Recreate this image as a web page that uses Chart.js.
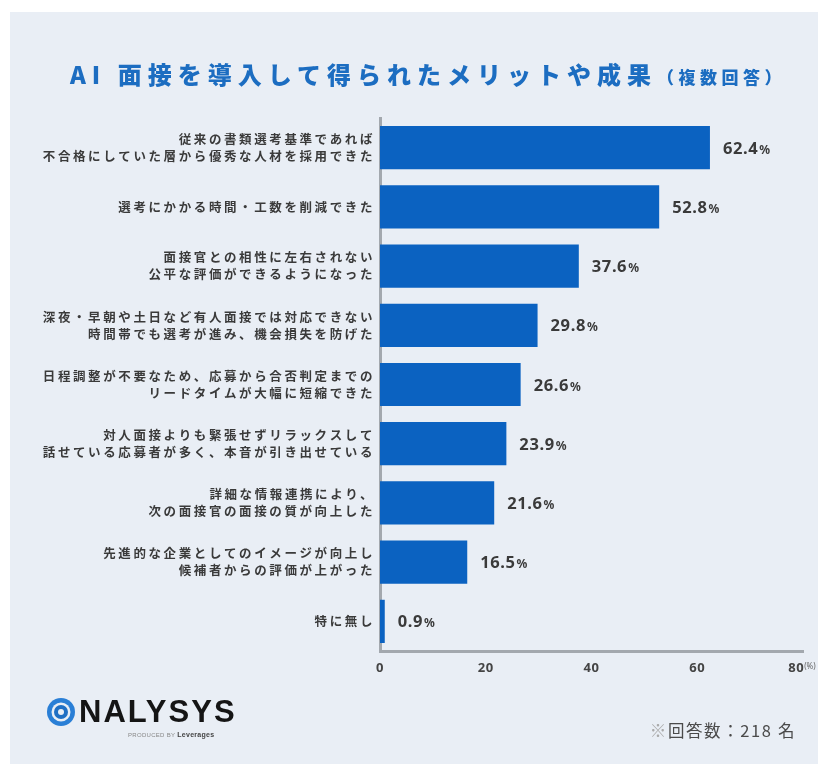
<!DOCTYPE html>
<html lang="ja">
<head>
<meta charset="utf-8">
<script src="https://cdn.jsdelivr.net/npm/chart.js@4"></script>
<style>
  html, body { margin:0; padding:0; background:#fff; }
  body { width:832px; height:764px; position:relative; overflow:hidden; font-family:"Noto Sans CJK JP", "Noto Sans", sans-serif; }
  #panel { position:absolute; left:10px; top:12px; width:808px; height:752px; background:#e9eef5; }
  #c { position:absolute; left:0; top:0; z-index:1; }
  #title { position:absolute; left:70px; top:56px; z-index:2; white-space:nowrap; color:#1c6dc1; font-weight:900; }
  #title .main { font-size:24px; letter-spacing:6px; }
  #title .sub { font-size:17px; letter-spacing:4.5px; margin-left:0px; }
  #logo { position:absolute; left:46px; top:696px; z-index:2; }
  #logo svg { position:absolute; left:0; top:1px; }
  #logo .name { position:absolute; left:33px; top:0; font-family:"Liberation Sans", Arial, sans-serif; font-weight:700; font-size:31px; line-height:31px; letter-spacing:2px; color:#151515; white-space:nowrap; }
  #logo .by { position:absolute; left:82px; top:35px; font-family:"Liberation Sans", Arial, sans-serif; font-size:6px; color:#888; white-space:nowrap; letter-spacing:0.3px; }
  #logo .by b { color:#444; font-size:7px; }
  #note { position:absolute; right:36px; top:718px; z-index:2; font-size:16.5px; letter-spacing:1.6px; color:#4a4a4a; white-space:nowrap; }
  #note .mark { color:#aaa; }
</style>
</head>
<body>
<div id="panel"></div>
<canvas id="c" width="832" height="764"></canvas>
<div id="title"><span class="main">AI 面接を導入して得られたメリットや成果</span><span class="sub">（複数回答）</span></div>
<div id="logo">
  <svg width="30" height="30" viewBox="0 0 30 30">
    <circle cx="15" cy="15" r="14" fill="#2a7fd6"/>
    <circle cx="15" cy="15" r="9.5" fill="#e9eef5"/>
    <circle cx="15" cy="15" r="7" fill="#1f6fc4"/>
    <circle cx="15" cy="15" r="3" fill="#e9eef5"/>
  </svg>
  <div class="name">NALYSYS</div>
  <div class="by">PRODUCED BY <b>Leverages</b></div>
</div>
<div id="note"><span class="mark">※</span>回答数：218 名</div>
<script>
// ---- data ----
const categories = [
  ['従来の書類選考基準であれば', '不合格にしていた層から優秀な人材を採用できた'],
  '選考にかかる時間・工数を削減できた',
  ['面接官との相性に左右されない', '公平な評価ができるようになった'],
  ['深夜・早朝や土日など有人面接では対応できない', '時間帯でも選考が進み、機会損失を防げた'],
  ['日程調整が不要なため、応募から合否判定までの', 'リードタイムが大幅に短縮できた'],
  ['対人面接よりも緊張せずリラックスして', '話せている応募者が多く、本音が引き出せている'],
  ['詳細な情報連携により、', '次の面接官の面接の質が向上した'],
  ['先進的な企業としてのイメージが向上し', '候補者からの評価が上がった'],
  '特に無し'
];
const values = [62.4, 52.8, 37.6, 29.8, 26.6, 23.9, 21.6, 16.5, 0.9];
const xTicks = [0, 20, 40, 60, 80];
const unitLabel = '(%)';

const BAR = '#0b62c1';
const AXIS = '#a3a8ae';
const TXT = '#3a3a3a';

const spacingPatch = {
  id: 'spacingPatch',
  beforeDraw(chart) {
    [['y', '2.6px'], ['x', '0.5px']].forEach(([id, sp]) => {
      const s = chart.scales[id];
      if (s && !s._spPatched) {
        const orig = s.drawLabels.bind(s);
        s.drawLabels = function (a) {
          const c = this.ctx; const prev = c.letterSpacing;
          c.letterSpacing = sp; orig(a); c.letterSpacing = prev;
        };
        s._spPatched = true;
      }
    });
  }
};

const valueLabels = {
  id: 'valueLabels',
  afterDatasetsDraw(chart) {
    const ctx = chart.ctx;
    const meta = chart.getDatasetMeta(0);
    meta.data.forEach((bar, i) => {
      const s = values[i].toFixed(1);
      const x = bar.x + 13, y = bar.y + 6;
      ctx.save();
      ctx.letterSpacing = '0.6px';
      ctx.fillStyle = TXT;
      ctx.textAlign = 'left';
      ctx.textBaseline = 'alphabetic';
      ctx.font = 'bold 16.5px "Noto Sans", "Noto Sans CJK JP", sans-serif';
      ctx.fillText(s, x, y);
      const w = ctx.measureText(s).width;
      ctx.font = 'bold 12px "Noto Sans", "Noto Sans CJK JP", sans-serif';
      ctx.fillText('%', x + w + 1, y);
      ctx.restore();
    });
  },
  afterDraw(chart) {
    const xs = chart.scales.x;
    const ctx = chart.ctx;
    const px = xs.getPixelForValue(xTicks[xTicks.length - 1]);
    ctx.save();
    ctx.font = 'bold 13px "Noto Sans", sans-serif';
    ctx.letterSpacing = '0.5px';
    const full = ctx.measureText('80\u2003').width;
    const w80 = ctx.measureText('80').width;
    const left = px - full / 2 + w80;
    ctx.font = '8px "Noto Sans", sans-serif';
    ctx.letterSpacing = '0px';
    ctx.fillStyle = '#666';
    ctx.textBaseline = 'middle';
    ctx.textAlign = 'left';
    ctx.fillText(unitLabel, left, xs.top + 16);
    ctx.restore();
  }
};

new Chart(document.getElementById('c'), {
  type: 'bar',
  data: {
    labels: categories,
    datasets: [{
      data: values,
      backgroundColor: BAR,
      borderWidth: 0,
      barPercentage: 0.73,
      categoryPercentage: 1.0
    }]
  },
  options: {
    indexAxis: 'y',
    responsive: false,
    animation: false,
    devicePixelRatio: 1,
    layout: { padding: { left: 0, right: 29, top: 118, bottom: 73 } },
    plugins: { legend: { display: false }, tooltip: { enabled: false }, title: { display: false } },
    scales: {
      x: {
        min: 0, max: 80,
        afterBuildTicks(scale) { scale.ticks = xTicks.map(v => ({ value: v })); },
        afterFit(scale) { scale.height = 40; },
        grid: { display: false, drawTicks: false },
        border: { display: true, color: AXIS, width: 3 },
        ticks: {
          padding: 9,
          color: '#444',
          font: { family: '"Noto Sans", sans-serif', size: 13, weight: 'bold' },
          callback: (v) => v === 80 ? '80\u2003' : String(v)
        }
      },
      y: {
        afterFit(scale) { scale.width = 380; },
        grid: { display: false, drawTicks: false },
        border: { display: true, color: AXIS, width: 3 },
        ticks: {
          padding: 5,
          color: TXT,
          font: { family: '"Noto Sans CJK JP", sans-serif', size: 12.5, weight: 'bold', lineHeight: 1.36 }
        }
      }
    }
  },
  plugins: [spacingPatch, valueLabels]
});
</script>
</body>
</html>
